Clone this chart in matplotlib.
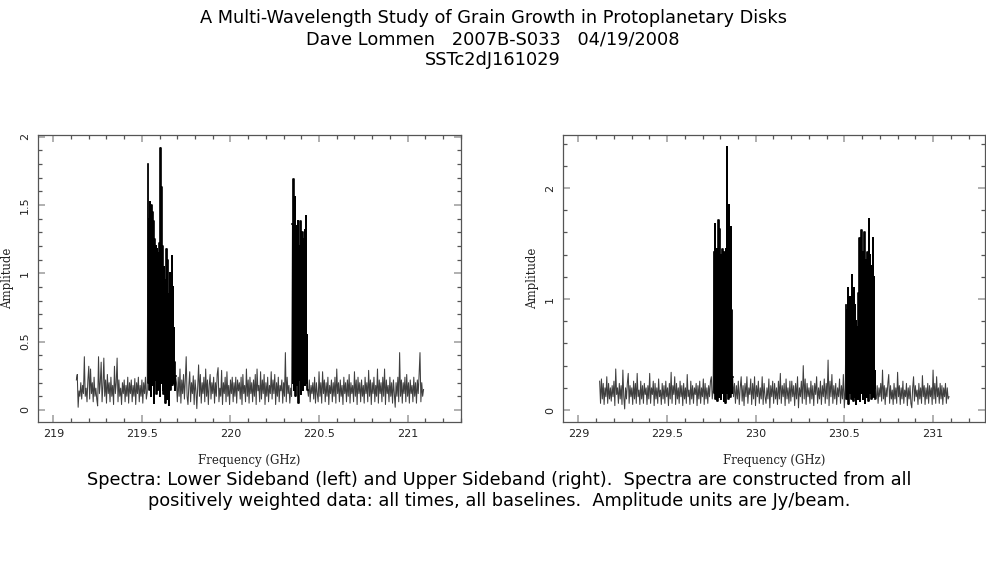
import numpy as np
import matplotlib
matplotlib.use('Agg')
import matplotlib.pyplot as plt
from matplotlib.ticker import MultipleLocator, FuncFormatter

# Lower sideband: baseline channels ~0.005 GHz, line windows ~0.0025 GHz
lsb_base_a = [0.22, 0.26, 0.02, 0.14, 0.10, 0.20, 0.08, 0.18, 0.12, 0.39,
              0.10, 0.16, 0.06, 0.22, 0.32, 0.08, 0.30, 0.12, 0.20, 0.06,
              0.24, 0.10, 0.16, 0.08, 0.03, 0.39, 0.12, 0.20, 0.35, 0.06,
              0.18, 0.38, 0.10, 0.22, 0.05, 0.26, 0.12, 0.20, 0.06, 0.24,
              0.10, 0.18, 0.04, 0.32, 0.12, 0.20, 0.38, 0.06, 0.22, 0.10,
              0.16, 0.04, 0.20, 0.12, 0.22, 0.06, 0.18, 0.10, 0.24, 0.05,
              0.20, 0.12, 0.22, 0.06, 0.18, 0.10, 0.23, 0.04, 0.20, 0.12,
              0.24, 0.06, 0.18, 0.10, 0.22, 0.05, 0.20, 0.12, 0.24, 0.08,
              0.13]
lsb_line1 = [1.80, 0.20, 1.40, 0.15, 1.52, 0.30, 1.20, 0.10, 1.50, 0.25, 1.45, 0.18, 1.38, 0.05,
             1.25, 0.30, 1.10, 0.22, 1.20, 0.12, 1.18, 0.28, 0.95, 0.15, 1.15, 0.20, 1.22, 0.10,
             1.92, 0.35, 1.63, 0.20, 1.20, 0.15, 0.65, 0.12, 1.05, 0.30, 0.62, 0.05, 0.95, 0.25,
             1.18, 0.08, 1.10, 0.20, 0.85, 0.04, 0.78, 0.28, 1.00, 0.15, 0.70, 0.22, 1.13, 0.18,
             0.90, 0.25, 0.60, 0.20, 0.35, 0.15, 0.25]
lsb_base_b = [0.20, 0.06, 0.24, 0.10, 0.30, 0.05, 0.22, 0.12, 0.26, 0.08,
              0.22, 0.39, 0.10, 0.04, 0.18, 0.28, 0.06, 0.20, 0.12, 0.25,
              0.04, 0.22, 0.14, 0.01, 0.18, 0.33, 0.10, 0.26, 0.05, 0.20,
              0.12, 0.24, 0.06, 0.30, 0.10, 0.22, 0.04, 0.18, 0.26, 0.08,
              0.20, 0.12, 0.24, 0.05, 0.20, 0.10, 0.26, 0.31, 0.06, 0.16,
              0.10, 0.29, 0.04, 0.20, 0.12, 0.24, 0.06, 0.28, 0.10, 0.18,
              0.04, 0.22, 0.12, 0.24, 0.06, 0.20, 0.10, 0.24, 0.05, 0.22,
              0.14, 0.20, 0.08, 0.24, 0.04, 0.26, 0.12, 0.18, 0.06, 0.30,
              0.10, 0.22, 0.05, 0.24, 0.12, 0.20, 0.06, 0.22, 0.10, 0.26,
              0.04, 0.30, 0.14, 0.18, 0.06, 0.28, 0.08, 0.22, 0.12, 0.26,
              0.04, 0.20, 0.10, 0.24, 0.06, 0.18, 0.12, 0.28, 0.08, 0.22,
              0.12, 0.26, 0.04, 0.20, 0.10, 0.24, 0.06, 0.18, 0.14, 0.22,
              0.05, 0.20, 0.10, 0.42, 0.06, 0.24, 0.12, 0.18, 0.05, 0.16,
              0.10]
lsb_line2 = [1.36, 0.20, 1.69, 0.15, 1.18, 0.30, 1.56, 0.10, 1.35, 0.25, 1.10, 0.18, 1.38, 0.05,
             1.20, 0.30, 1.05, 0.22, 1.38, 0.12, 1.15, 0.28, 1.30, 0.15, 1.25, 0.20, 1.10, 0.18,
             1.32, 0.25, 1.42, 0.20, 0.55, 0.15]
lsb_base_c = [0.10, 0.22, 0.06, 0.18, 0.12, 0.20, 0.08, 0.24, 0.05, 0.20,
              0.12, 0.06, 0.28, 0.10, 0.20, 0.05, 0.28, 0.12, 0.22, 0.06,
              0.20, 0.10, 0.24, 0.04, 0.18, 0.12, 0.22, 0.06, 0.20, 0.10,
              0.24, 0.05, 0.30, 0.12, 0.20, 0.06, 0.22, 0.10, 0.18, 0.04,
              0.24, 0.12, 0.20, 0.06, 0.22, 0.10, 0.26, 0.05, 0.20, 0.12,
              0.18, 0.06, 0.28, 0.10, 0.22, 0.04, 0.24, 0.12, 0.20, 0.06,
              0.22, 0.10, 0.18, 0.05, 0.24, 0.12, 0.20, 0.06, 0.29, 0.10,
              0.22, 0.04, 0.20, 0.12, 0.24, 0.06, 0.18, 0.10, 0.30, 0.05,
              0.22, 0.12, 0.20, 0.06, 0.24, 0.10, 0.30, 0.04, 0.22, 0.12,
              0.18, 0.06, 0.24, 0.10, 0.20, 0.05, 0.22, 0.12, 0.02, 0.20,
              0.10, 0.24, 0.06, 0.42, 0.10, 0.22, 0.05, 0.20, 0.12, 0.24,
              0.06, 0.26, 0.10, 0.20, 0.05, 0.22, 0.12, 0.18, 0.06, 0.24,
              0.10, 0.20, 0.05, 0.22, 0.12, 0.26, 0.42, 0.06, 0.20, 0.10,
              0.15]
# (first channel GHz, last channel GHz, values)
lsb_segments = [(219.13, 219.53, lsb_base_a), (219.535, 219.69, lsb_line1),
                (219.695, 220.345, lsb_base_b), (220.35, 220.435, lsb_line2),
                (220.44, 221.09, lsb_base_c)]

# Upper sideband
usb_base_a = [0.26, 0.06, 0.28, 0.10, 0.24, 0.05, 0.20, 0.12, 0.30, 0.06,
              0.24, 0.10, 0.20, 0.08, 0.22, 0.12, 0.26, 0.04, 0.37, 0.14,
              0.20, 0.06, 0.24, 0.10, 0.22, 0.05, 0.36, 0.12, 0.01, 0.20,
              0.10, 0.24, 0.33, 0.06, 0.22, 0.12, 0.20, 0.05, 0.26, 0.10,
              0.24, 0.06, 0.33, 0.12, 0.18, 0.05, 0.26, 0.10, 0.22, 0.06,
              0.24, 0.14, 0.20, 0.05, 0.22, 0.10, 0.33, 0.06, 0.20, 0.14,
              0.26, 0.04, 0.24, 0.10, 0.20, 0.06, 0.28, 0.12, 0.18, 0.05,
              0.24, 0.10, 0.22, 0.06, 0.26, 0.12, 0.20, 0.04, 0.24, 0.10,
              0.34, 0.06, 0.22, 0.14, 0.30, 0.05, 0.24, 0.10, 0.20, 0.06,
              0.26, 0.12, 0.22, 0.04, 0.24, 0.10, 0.20, 0.06, 0.32, 0.12,
              0.18, 0.05, 0.26, 0.10, 0.22, 0.06, 0.20, 0.14, 0.24, 0.04,
              0.22, 0.10, 0.26, 0.06, 0.20, 0.12, 0.28, 0.05, 0.24, 0.10,
              0.20, 0.06, 0.22, 0.12, 0.26, 0.30, 0.10, 0.18]
usb_line1 = [1.42, 0.15, 1.68, 0.10, 1.45, 0.20, 1.30, 0.08, 1.45, 0.25, 1.71, 0.12, 1.63, 0.18,
             1.40, 0.10, 1.20, 0.22, 1.45, 0.15, 1.35, 0.08, 1.42, 0.20, 1.25, 0.06, 1.45, 0.18,
             2.37, 0.15, 1.30, 0.10, 1.85, 0.20, 1.25, 0.12, 1.65, 0.18, 0.90, 0.15, 0.30]
usb_base_b = [0.12, 0.24, 0.06, 0.22, 0.10, 0.26, 0.05, 0.20, 0.30, 0.08,
              0.22, 0.04, 0.24, 0.12, 0.30, 0.06, 0.20, 0.14, 0.28, 0.05,
              0.24, 0.10, 0.30, 0.04, 0.22, 0.12, 0.26, 0.06, 0.20, 0.10,
              0.30, 0.05, 0.24, 0.12, 0.06, 0.20, 0.10, 0.28, 0.02, 0.22,
              0.12, 0.26, 0.06, 0.24, 0.10, 0.20, 0.05, 0.26, 0.10, 0.33,
              0.06, 0.22, 0.12, 0.24, 0.04, 0.28, 0.10, 0.20, 0.06, 0.26,
              0.08, 0.26, 0.12, 0.22, 0.04, 0.24, 0.10, 0.30, 0.02, 0.20,
              0.12, 0.26, 0.06, 0.40, 0.10, 0.28, 0.05, 0.24, 0.12, 0.20,
              0.06, 0.26, 0.10, 0.22, 0.04, 0.24, 0.14, 0.30, 0.06, 0.20,
              0.10, 0.26, 0.05, 0.22, 0.12, 0.28, 0.06, 0.24, 0.10, 0.45,
              0.04, 0.26, 0.12, 0.32, 0.06, 0.22, 0.10, 0.24, 0.05, 0.20,
              0.12, 0.28, 0.06, 0.22, 0.10, 0.32, 0.02, 0.20]
usb_line2 = [0.95, 0.10, 0.90, 0.20, 1.10, 0.05, 0.85, 0.15, 1.02, 0.25, 0.95, 0.10, 1.22, 0.18,
             0.90, 0.08, 1.10, 0.20, 0.95, 0.12, 0.80, 0.05, 0.70, 0.18, 0.75, 0.10, 1.05, 0.22,
             1.55, 0.08, 1.40, 0.15, 1.62, 0.25, 1.30, 0.10, 1.42, 0.20, 1.60, 0.06, 1.35, 0.18,
             1.25, 0.12, 1.42, 0.22, 1.30, 0.08, 1.72, 0.15, 1.40, 0.20, 1.25, 0.10, 1.30, 0.18,
             1.55, 0.12, 1.20, 0.20, 0.35, 0.10]
usb_base_c = [0.10, 0.22, 0.06, 0.20, 0.12, 0.24, 0.08, 0.36, 0.10, 0.22,
              0.05, 0.20, 0.12, 0.24, 0.32, 0.06, 0.22, 0.10, 0.18, 0.05,
              0.24, 0.10, 0.20, 0.06, 0.34, 0.12, 0.22, 0.05, 0.20, 0.10,
              0.26, 0.06, 0.18, 0.12, 0.24, 0.04, 0.20, 0.10, 0.22, 0.06,
              0.02, 0.20, 0.30, 0.08, 0.22, 0.12, 0.18, 0.05, 0.24, 0.10,
              0.20, 0.06, 0.31, 0.12, 0.22, 0.05, 0.20, 0.10, 0.24, 0.06,
              0.22, 0.12, 0.20, 0.05, 0.36, 0.10, 0.24, 0.06, 0.30, 0.12,
              0.20, 0.06, 0.24, 0.10, 0.22, 0.05, 0.20, 0.12, 0.24, 0.06,
              0.20, 0.10, 0.12]
usb_segments = [(229.12, 229.76, usb_base_a), (229.765, 229.87, usb_line1),
                (229.875, 230.505, usb_base_b), (230.51, 230.675, usb_line2),
                (230.68, 231.09, usb_base_c)]

title_lines = ['A Multi-Wavelength Study of Grain Growth in Protoplanetary Disks',
               'Dave Lommen   2007B-S033   04/19/2008',
               'SSTc2dJ161029']
caption_lines = ['Spectra: Lower Sideband (left) and Upper Sideband (right).  Spectra are constructed from all',
                 'positively weighted data: all times, all baselines.  Amplitude units are Jy/beam.']


def build(segments):
    freqs, amps = [], []
    for first, last, vals in segments:
        freqs.append(np.linspace(first, last, len(vals)))
        amps.append(np.array(vals))
    return np.concatenate(freqs), np.concatenate(amps)


fmt = FuncFormatter(lambda v, p: '%g' % round(v, 3))


def draw_panel(ax, segments, xlim, ylim, ymaj, ymin):
    f, a = build(segments)
    ax.plot(f, a, color='#3f3f3f', lw=0.75)
    # line windows again on top, darker
    for first, last, vals in segments[1::2]:
        ax.plot(np.linspace(first, last, len(vals)), vals, drawstyle='steps-mid',
                color='#000000', lw=1.2)
    ax.set_xlim(*xlim)
    ax.set_ylim(*ylim)
    ax.xaxis.set_major_locator(MultipleLocator(0.5))
    ax.xaxis.set_minor_locator(MultipleLocator(0.1))
    ax.yaxis.set_major_locator(MultipleLocator(ymaj))
    ax.yaxis.set_minor_locator(MultipleLocator(ymin))
    ax.xaxis.set_major_formatter(fmt)
    ax.yaxis.set_major_formatter(fmt)
    ax.tick_params(which='both', direction='in', top=True, right=True)
    ax.tick_params(which='major', length=5, width=1.3, color='#aaaaaa', labelsize=8,
                   labelcolor='#222222')
    ax.tick_params(which='minor', length=2.8, width=0.9, color='#555555')
    ax.tick_params(axis='x', pad=5)
    ax.tick_params(axis='y', pad=6)
    for lab in ax.get_yticklabels():
        lab.set_rotation(90)
        lab.set_va('center')
    for s in ax.spines.values():
        s.set_color('#555555')
        s.set_linewidth(0.9)
    ax.set_xlabel('Frequency (GHz)', family='DejaVu Serif', fontsize=8.5, color='#222222',
                  labelpad=11)
    ax.set_ylabel('Amplitude', family='DejaVu Serif', fontsize=8.5, color='#222222',
                  labelpad=4)


fig = plt.figure(figsize=(9.87, 5.67), dpi=100)
ax1 = fig.add_axes([0.0388, 0.2557, 0.428, 0.506])
ax2 = fig.add_axes([0.5707, 0.2557, 0.4273, 0.506])

draw_panel(ax1, lsb_segments, (218.915, 221.30), (-0.088, 2.012), 0.5, 0.1)
draw_panel(ax2, usb_segments, (228.915, 231.293), (-0.108, 2.477), 1, 0.2)

fig.text(0.4995, 1 - 39 / 567, '\n'.join(title_lines), ha='center', va='center',
         fontsize=12.75, linespacing=1.2)
fig.text(0.5055, 1 - 490.5 / 567, '\n'.join(caption_lines), ha='center', va='center',
         fontsize=12.75, linespacing=1.2)

fig.savefig('out.png', dpi=100)
